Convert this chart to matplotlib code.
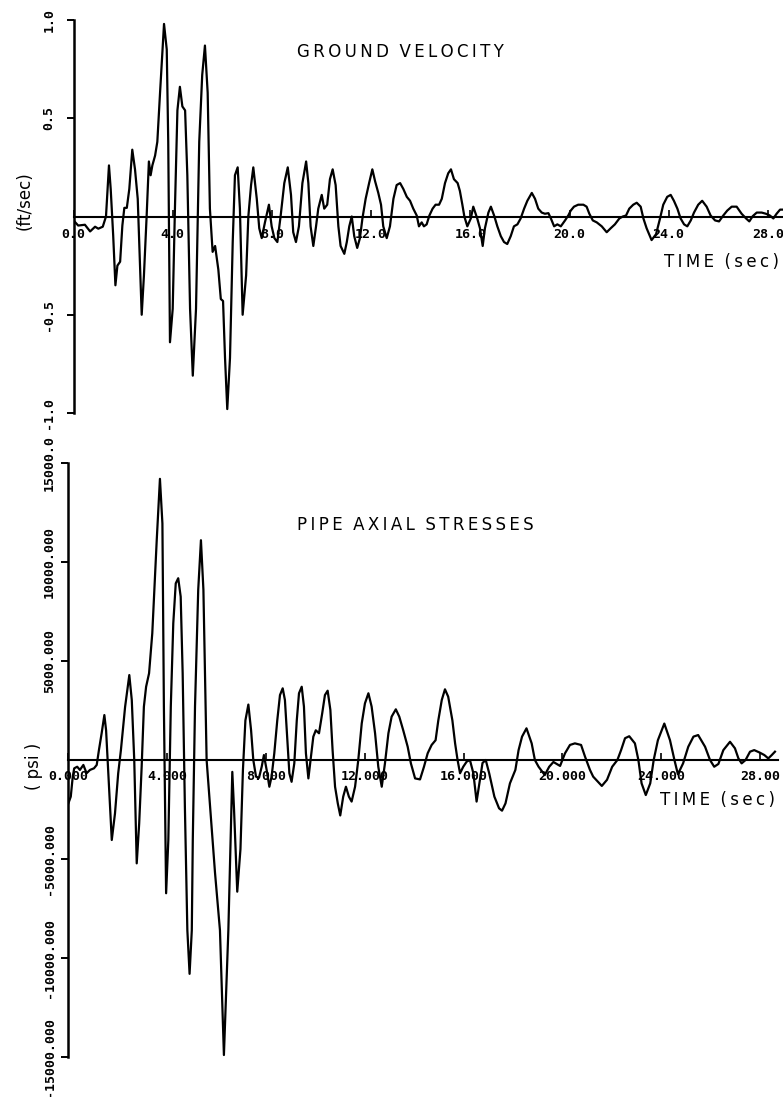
import matplotlib
matplotlib.use("Agg")
import matplotlib.pyplot as plt

# ground velocity (ft/sec)
t_vel = [0.00, 0.19, 0.46, 0.67, 0.87, 1.00, 1.18, 1.31, 1.43, 1.50, 1.60, 1.69, 1.77, 1.88, 1.97,
         2.05, 2.15, 2.25, 2.37, 2.48, 2.59, 2.65, 2.75, 2.84, 2.95, 3.04, 3.11, 3.18, 3.29, 3.38,
         3.49, 3.65, 3.76, 3.82, 3.89, 4.00, 4.09, 4.19, 4.29, 4.39, 4.50, 4.59, 4.70, 4.81, 4.94,
         5.07, 5.19, 5.30, 5.41, 5.50, 5.61, 5.71, 5.84, 5.94, 6.03, 6.11, 6.20, 6.31, 6.42, 6.51,
         6.62, 6.71, 6.82, 6.96, 7.05, 7.16, 7.25, 7.39, 7.49, 7.59, 7.72, 7.88, 7.99, 8.10, 8.22,
         8.35, 8.50, 8.64, 8.77, 8.86, 8.97, 9.09, 9.23, 9.38, 9.47, 9.56, 9.67, 9.78, 9.87, 10.01,
         10.11, 10.23, 10.34, 10.45, 10.57, 10.68, 10.77, 10.92, 11.02, 11.12, 11.22, 11.32, 11.44,
         11.55, 11.65, 11.78, 11.92, 12.05, 12.16, 12.29, 12.40, 12.49, 12.63, 12.76, 12.90, 13.03,
         13.17, 13.30, 13.44, 13.57, 13.70, 13.84, 13.93, 14.04, 14.13, 14.24, 14.35, 14.48, 14.60,
         14.74, 14.85, 14.98, 15.11, 15.22, 15.34, 15.49, 15.58, 15.68, 15.76, 15.88, 16.02, 16.12,
         16.28, 16.39, 16.50, 16.59, 16.73, 16.83, 16.96, 17.09, 17.23, 17.36, 17.49, 17.63, 17.76,
         17.90, 18.03, 18.17, 18.30, 18.48, 18.61, 18.74, 18.88, 19.01, 19.15, 19.25, 19.38, 19.51,
         19.65, 19.82, 19.95, 20.05, 20.18, 20.35, 20.56, 20.69, 20.80, 20.94, 21.10, 21.30, 21.50,
         21.66, 21.83, 22.01, 22.15, 22.28, 22.41, 22.57, 22.71, 22.87, 22.98, 23.11, 23.31, 23.49,
         23.65, 23.78, 23.94, 24.08, 24.21, 24.35, 24.48, 24.62, 24.75, 24.89, 25.02, 25.19, 25.35,
         25.53, 25.69, 25.87, 26.03, 26.20, 26.36, 26.54, 26.74, 26.94, 27.12, 27.25, 27.39, 27.55,
         27.75, 27.92, 28.08, 28.22, 28.35, 28.49, 28.60]
v_vel = [-0.02, -0.046, -0.042, -0.076, -0.052, -0.062, -0.052, 0.0, 0.26, 0.14, -0.096, -0.35, -0.25,
         -0.23, -0.046, 0.044, 0.044, 0.14, 0.34, 0.24, 0.09, -0.13, -0.50, -0.30, 0.005, 0.28, 0.21,
         0.26, 0.31, 0.38, 0.63, 0.98, 0.85, 0.38, -0.64, -0.47, 0.04, 0.54, 0.66, 0.56, 0.54, 0.21,
         -0.47, -0.81, -0.47, 0.38, 0.72, 0.87, 0.63, 0.04, -0.18, -0.15, -0.27, -0.42, -0.43, -0.72,
         -0.98, -0.72, -0.13, 0.21, 0.25, 0.04, -0.50, -0.30, 0.0, 0.16, 0.25, 0.09, -0.06, -0.11,
         -0.03, 0.06, -0.05, -0.11, -0.13, 0.0, 0.17, 0.25, 0.11, -0.08, -0.13, -0.05, 0.17, 0.28,
         0.17, -0.05, -0.15, -0.05, 0.04, 0.11, 0.04, 0.06, 0.19, 0.24, 0.16, -0.05, -0.15, -0.19,
         -0.13, -0.05, 0.0, -0.10, -0.16, -0.11, -0.01, 0.09, 0.17, 0.24, 0.18, 0.12, 0.06, -0.05,
         -0.11, -0.05, 0.09, 0.16, 0.17, 0.14, 0.10, 0.08, 0.04, 0.005, -0.05, -0.03, -0.05, -0.04,
         0.005, 0.04, 0.06, 0.06, 0.09, 0.17, 0.22, 0.24, 0.19, 0.17, 0.13, 0.06, 0.0, -0.05, -0.01,
         0.05, -0.01, -0.06, -0.15, -0.06, 0.02, 0.05, 0.005, -0.05, -0.10, -0.13, -0.14, -0.10,
         -0.05, -0.04, -0.01, 0.04, 0.08, 0.12, 0.09, 0.04, 0.02, 0.014, 0.017, -0.01, -0.05, -0.04,
         -0.05, -0.02, 0.005, 0.03, 0.05, 0.06, 0.06, 0.05, 0.014, -0.02, -0.03, -0.05, -0.08, -0.06,
         -0.04, -0.01, 0.0, 0.005, 0.04, 0.06, 0.07, 0.05, -0.01, -0.06, -0.12, -0.09, -0.01, 0.06,
         0.10, 0.11, 0.08, 0.04, -0.01, -0.04, -0.05, -0.02, 0.02, 0.06, 0.08, 0.05, 0.005, -0.02,
         -0.025, 0.005, 0.03, 0.05, 0.05, 0.014, -0.01, -0.025, 0.002, 0.02, 0.02, 0.014, 0.005,
         -0.01, 0.014, 0.035, 0.035]

# pipe axial stress (psi)
t_str = [0.00, 0.10, 0.18, 0.24, 0.36, 0.47, 0.61, 0.74, 0.88, 1.04, 1.15, 1.24, 1.35, 1.46, 1.53,
         1.62, 1.76, 1.89, 2.02, 2.13, 2.30, 2.47, 2.57, 2.67, 2.77, 2.87, 2.97, 3.06, 3.15, 3.27,
         3.40, 3.58, 3.71, 3.81, 3.87, 3.96, 4.05, 4.15, 4.25, 4.35, 4.45, 4.55, 4.63, 4.72, 4.82,
         4.91, 5.00, 5.04, 5.13, 5.26, 5.37, 5.47, 5.60, 5.77, 5.94, 6.14, 6.30, 6.48, 6.64, 6.71,
         6.84, 6.97, 7.07, 7.17, 7.29, 7.40, 7.49, 7.60, 7.72, 7.83, 7.92, 8.03, 8.14, 8.23, 8.34,
         8.46, 8.57, 8.68, 8.77, 8.87, 8.95, 9.04, 9.15, 9.25, 9.34, 9.45, 9.54, 9.62, 9.72, 9.81,
         9.92, 10.02, 10.15, 10.28, 10.39, 10.50, 10.61, 10.70, 10.80, 10.91, 11.01, 11.13, 11.24,
         11.36, 11.47, 11.61, 11.74, 11.88, 12.01, 12.15, 12.28, 12.42, 12.55, 12.69, 12.82, 12.96,
         13.09, 13.26, 13.40, 13.56, 13.74, 13.87, 14.04, 14.24, 14.40, 14.55, 14.71, 14.87, 14.98,
         15.12, 15.25, 15.38, 15.55, 15.66, 15.76, 15.86, 15.99, 16.13, 16.26, 16.40, 16.53, 16.77,
         16.90, 17.04, 17.25, 17.44, 17.56, 17.70, 17.88, 18.10, 18.23, 18.37, 18.55, 18.76, 18.89,
         19.04, 19.29, 19.47, 19.64, 19.91, 20.11, 20.31, 20.51, 20.76, 20.92, 21.12, 21.25, 21.60,
         21.81, 22.02, 22.23, 22.38, 22.54, 22.71, 22.94, 23.08, 23.21, 23.38, 23.56, 23.70, 23.87,
         24.13, 24.36, 24.54, 24.68, 24.89, 25.10, 25.31, 25.50, 25.78, 25.98, 26.15, 26.32, 26.52,
         26.79, 26.99, 27.13, 27.26, 27.42, 27.60, 27.77, 28.00, 28.18, 28.34, 28.48, 28.61]
v_str = [-2200, -1850, -840, -420, -340, -500, -250, -670, -500, -420, -250, 500, 1350, 2270, 1500,
         -670, -4040, -2700, -670, 500, 2690, 4290, 3030, 0, -5220, -3200, -340, 2690, 3700, 4380,
         6400, 11100, 14200, 11950, 2700, -6730, -4040, 2700, 6900, 8920, 9180, 8250, 4380, -2360,
         -8600, -10800, -8600, -4040, 2700, 8600, 11100, 8600, 0, -2860, -5700, -8600, -14900, -8600,
         -600, -2500, -6650, -4500, -500, 2000, 2800, 1500, 0, -840, -900, -340, 250, -500, -1350,
         -840, 340, 2000, 3280, 3620, 3030, 1000, -670, -1100, -170, 2000, 3370, 3700, 2700, 340,
         -930, 0, 1180, 1500, 1350, 2360, 3280, 3500, 2530, 500, -1350, -2190, -2800, -1850, -1350,
         -1850, -2100, -1350, 0, 1850, 2860, 3370, 2700, 1350, -340, -1350, -170, 1350, 2190, 2560,
         2190, 1500, 670, -170, -930, -980, -340, 340, 760, 1000, 2000, 3030, 3570, 3200, 2000, 840,
         0, -670, -340, -80, 0, -670, -2100, -150, 0, -670, -1850, -2440, -2560, -2190, -1180, -500,
         500, 1180, 1600, 840, 0, -340, -760, -340, -100, -300, 340, 760, 840, 760, 170, -500, -840,
         -1310, -1000, -340, 0, 500, 1100, 1200, 840, 0, -1180, -1770, -1180, 0, 1000, 1840, 1000, 0,
         -720, -170, 670, 1180, 1260, 670, 0, -340, -200, 500, 920, 590, 80, -170, 0, 420, 500, 370,
         250, 80, 250, 420]

x_ticks = [0, 4, 8, 12, 16, 20, 24, 28]
vel_xlabels = ['0.0', '4.0', '8.0', '12.0', '16.0', '20.0', '24.0', '28.0']
str_xlabels = ['0.000', '4.000', '8.000', '12.000', '16.000', '20.000', '24.000', '28.00']
vel_yticks = [-1.0, -0.5, 0.5, 1.0]
vel_ylabels = ['-1.0', '-0.5', '0.5', '1.0']
str_yticks = [-15000, -10000, -5000, 5000, 10000, 15000]
str_ylabels = ['-15000.000', '-10000.000', '-5000.000', '5000.000', '10000.000', '15000.0']

W, H = 783, 1097
fig = plt.figure(figsize=(W / 100, H / 100), dpi=100)
fig.patch.set_facecolor('white')

ax1 = fig.add_axes([73.5 / W, 1 - 413 / H, (W - 73.5) / W, 393 / H])
ax2 = fig.add_axes([68.3 / W, 1 - 1057 / H, (778 - 68.3) / W, 594 / H])

tick_font = dict(fontfamily='DejaVu Sans Mono', fontweight='bold', fontsize=9.5)


def spaced(s):
    # plotter lettering is widely spaced, so put thin spaces between letters
    return '  '.join('\u2009'.join(w) for w in s.split())


for ax in (ax1, ax2):
    for side in ('top', 'right'):
        ax.spines[side].set_visible(False)
    ax.spines['bottom'].set_position(('data', 0))
    ax.spines['bottom'].set_linewidth(1.5)
    ax.spines['left'].set_linewidth(1.8)
    ax.patch.set_alpha(0)

ax1.plot(t_vel, v_vel, color='black', lw=1.6)
ax1.set_xlim(0, (W - 73.5) / 24.8)
ax1.set_ylim(-1.0, 1.0)
ax1.set_xticks(x_ticks, vel_xlabels, **tick_font)
ax1.set_yticks(vel_yticks, vel_ylabels, rotation=90, va='center', **tick_font)
ax1.tick_params(axis='x', direction='in', length=5, width=1.2, pad=8.5)
ax1.tick_params(axis='y', direction='out', length=5, width=1.4, pad=8)
ax1.set_ylabel('(ft/sec)', fontsize=12)
ax1.yaxis.set_label_coords(-0.056, 0.54)

ax2.plot(t_str, v_str, color='black', lw=1.6)
ax2.set_xlim(0, (778 - 68.3) / 24.7)
ax2.set_ylim(-15000, 15000)
ax2.set_xticks(x_ticks, str_xlabels, **tick_font)
ax2.set_yticks(str_yticks, str_ylabels, rotation=90, va='center', **tick_font)
ax2.tick_params(axis='x', direction='in', length=5, width=1.2, pad=7)
ax2.tick_params(axis='y', direction='out', length=5, width=1.4, pad=4)
ax2.set_ylabel('( psi )', fontsize=12)
ax2.yaxis.set_label_coords(-0.036, 0.49)

fig.text(400 / W, 1 - 52 / H, spaced('GROUND VELOCITY'),
         ha='center', va='center', fontsize=12)
fig.text(415 / W, 1 - 525 / H, spaced('PIPE AXIAL STRESSES'),
         ha='center', va='center', fontsize=12)
fig.text(722 / W, 1 - 262 / H, spaced('TIME (sec)'),
         ha='center', va='center', fontsize=12)
fig.text(718 / W, 1 - 800 / H, spaced('TIME (sec)'),
         ha='center', va='center', fontsize=12)

fig.savefig('out.png', dpi=100, facecolor='white')
